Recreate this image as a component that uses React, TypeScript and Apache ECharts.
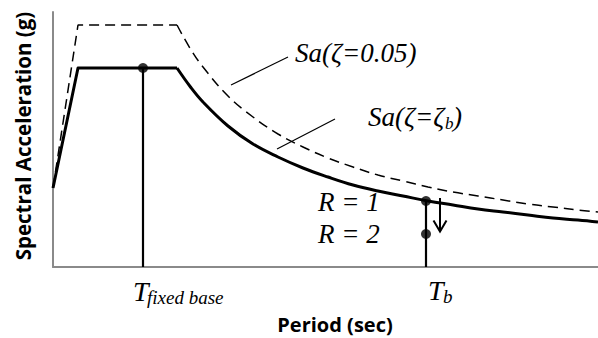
import React, { useEffect, useRef } from "react";
import * as echarts from "echarts";

// Period axis (sec) and spectral acceleration (g)
const periodMax = 5.45;
const saMax = 2.55;

// Ramp + plateau segment of the design spectra
const rampPeriods = [0, 0.25, 1.24];
const rampSa5 = [0.79, 2.42, 2.42];
const rampSaB = [0.79, 1.99, 1.99];

// Descending branch of the design spectra
const decayPeriods = [1.24, 1.375, 1.5, 1.75, 2.0, 2.25, 2.5, 2.75, 3.0, 3.25, 3.5, 3.75, 4.0, 4.25, 4.5, 4.75, 5.0, 5.25, 5.45];
const decaySa5 = [2.42, 2.18, 2.0, 1.71, 1.5, 1.33, 1.2, 1.09, 1.0, 0.92, 0.86, 0.8, 0.75, 0.71, 0.67, 0.63, 0.6, 0.57, 0.55];
const decaySaB = [1.99, 1.8, 1.65, 1.41, 1.23, 1.1, 0.99, 0.9, 0.82, 0.76, 0.71, 0.66, 0.62, 0.58, 0.55, 0.52, 0.49, 0.47, 0.45];

// Marked periods and response points
const tFixedBase = 0.9;
const saFixedBase = 1.99;
const tIsolated = 3.73;
const saR1 = 0.66;
const saR2 = 0.33;

// Annotation anchors (data units)
const arrowT = 3.87;
const arrowFrom = 0.69;
const arrowTo = 0.355;
const leader5 = [[1.78, 1.82], [2.35, 2.1]];
const leaderB = [[2.24, 1.18], [2.82, 1.48]];
const label5At = [2.42, 2.14];
const labelBAt = [3.15, 1.5];
const labelR1At = [2.65, 0.65];
const labelR2At = [2.65, 0.335];

const pairs = (xs: number[], ys: number[]) => xs.map((x, i) => [x, ys[i]]);

const serif = "'Liberation Serif', 'DejaVu Serif', serif";
const sans = "'Open Sans', 'Noto Sans', sans-serif";

export default function App() {
  const ref = useRef<HTMLDivElement>(null);

  useEffect(() => {
    if (!ref.current) return;
    const chart = echarts.init(ref.current, null, { renderer: "svg" });

    const solid = { color: "#000", width: 3, join: "round" as const };
    const dashed = { color: "#000", width: 1.5, type: [10, 6] as number[] };

    chart.setOption({
      animation: false,
      grid: { left: 53, top: 12, right: 0, bottom: 71, containLabel: false },
      xAxis: {
        type: "value",
        min: 0,
        max: periodMax,
        axisLine: { lineStyle: { color: "#8a8a8a", width: 2 } },
        axisTick: { show: false },
        axisLabel: { show: false },
        splitLine: { show: false },
      },
      yAxis: {
        type: "value",
        min: 0,
        max: saMax,
        axisLine: { show: true, lineStyle: { color: "#8a8a8a", width: 2 } },
        axisTick: { show: false },
        axisLabel: { show: false },
        splitLine: { show: false },
      },
      series: [
        { type: "line", data: pairs(rampPeriods, rampSa5), symbol: "none", lineStyle: dashed },
        { type: "line", data: pairs(decayPeriods, decaySa5), symbol: "none", smooth: 0.4, lineStyle: dashed },
        { type: "line", data: pairs(rampPeriods, rampSaB), symbol: "none", lineStyle: solid },
        { type: "line", data: pairs(decayPeriods, decaySaB), symbol: "none", smooth: 0.4, lineStyle: solid },
        {
          type: "line",
          data: [[tFixedBase, 0], [tFixedBase, saFixedBase]],
          symbol: "none",
          lineStyle: { color: "#000", width: 2.2 },
        },
        {
          type: "line",
          data: [[tIsolated, 0], [tIsolated, saR1]],
          symbol: "none",
          lineStyle: { color: "#000", width: 2.2 },
        },
        {
          type: "scatter",
          data: [[tFixedBase, saFixedBase], [tIsolated, saR1], [tIsolated, saR2]],
          symbolSize: 10,
          itemStyle: { color: "#000" },
          z: 5,
        },
      ],
    });

    const px = (p: number[]) => chart.convertToPixel({ gridIndex: 0 }, p) as number[];
    const axisY = px([0, 0])[1];

    const a0 = px([arrowT, arrowFrom]);
    const a1 = px([arrowT, arrowTo]);
    const l5a = px(leader5[0]);
    const l5b = px(leader5[1]);
    const lBa = px(leaderB[0]);
    const lBb = px(leaderB[1]);
    const s5 = px(label5At);
    const sB = px(labelBAt);
    const r1 = px(labelR1At);
    const r2 = px(labelR2At);
    const tf = px([tFixedBase, 0]);
    const tb = px([tIsolated, 0]);

    const ital = (size: number) => ({
      fontFamily: serif,
      fontStyle: "italic",
      fontSize: size,
      fill: "#000",
    });

    chart.setOption({
      graphic: [
        { type: "line", shape: { x1: a0[0], y1: a0[1], x2: a1[0], y2: a1[1] }, style: { stroke: "#000", lineWidth: 2 } },
        {
          type: "polyline",
          shape: { points: [[a1[0] - 6.5, a1[1] - 11], [a1[0], a1[1]], [a1[0] + 6.5, a1[1] - 11]] },
          style: { stroke: "#000", lineWidth: 2, fill: null },
        },
        { type: "line", shape: { x1: l5a[0], y1: l5a[1], x2: l5b[0], y2: l5b[1] }, style: { stroke: "#000", lineWidth: 1.2 } },
        { type: "line", shape: { x1: lBa[0], y1: lBa[1], x2: lBb[0], y2: lBb[1] }, style: { stroke: "#000", lineWidth: 1.2 } },
        {
          type: "text",
          x: s5[0],
          y: s5[1],
          style: { ...ital(27), text: "Sa(ζ=0.05)", verticalAlign: "middle" },
        },
        { type: "text", x: sB[0], y: sB[1], style: { ...ital(27), text: "Sa(ζ=ζ", verticalAlign: "middle" } },
        { type: "text", x: sB[0] + 77, y: sB[1] + 6, style: { ...ital(17), text: "b", verticalAlign: "middle" } },
        { type: "text", x: sB[0] + 85, y: sB[1], style: { ...ital(27), text: ")", verticalAlign: "middle" } },
        { type: "text", x: r1[0], y: r1[1], style: { ...ital(27), text: "R = 1", verticalAlign: "middle" } },
        { type: "text", x: r2[0], y: r2[1], style: { ...ital(27), text: "R = 2", verticalAlign: "middle" } },
        // Period tick labels
        { type: "text", x: tf[0] - 10, y: axisY + 24, style: { ...ital(28), text: "T", verticalAlign: "middle" } },
        { type: "text", x: tf[0] + 4, y: axisY + 30, style: { ...ital(19), text: "fixed base", verticalAlign: "middle" } },
        { type: "text", x: tb[0] + 2, y: axisY + 23, style: { ...ital(28), text: "T", verticalAlign: "middle" } },
        { type: "text", x: tb[0] + 17, y: axisY + 29, style: { ...ital(19), text: "b", verticalAlign: "middle" } },
        // Axis titles
        {
          type: "text",
          x: 335,
          y: 324,
          style: { text: "Period (sec)", fontFamily: sans, fontWeight: "bold", fontSize: 20, fill: "#000", align: "center", verticalAlign: "middle" },
        },
        {
          type: "text",
          x: 23,
          y: 136,
          rotation: Math.PI / 2,
          style: { text: "Spectral Acceleration (g)", fontFamily: sans, fontWeight: "bold", fontSize: 20.5, fill: "#000", align: "center", verticalAlign: "middle" },
        },
      ],
    });

    return () => chart.dispose();
  }, []);

  return <div ref={ref} style={{ width: 598, height: 338, position: "absolute", left: 0, top: 0 }} />;
}
